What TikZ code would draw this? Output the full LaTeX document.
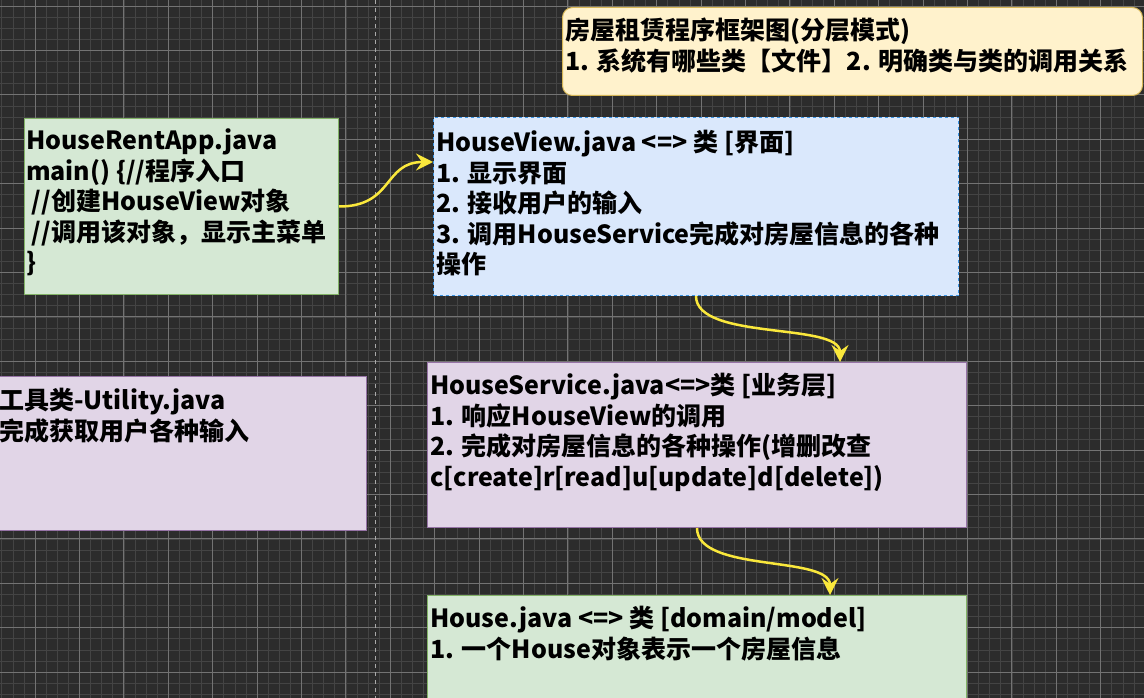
\documentclass[tikz,border=0pt]{standalone}
\usepackage{fontspec}
\setmainfont{Noto Sans CJK SC}
\usepackage{tikz}
\usetikzlibrary{arrows.meta,calc}
\usepackage{xcolor}
\definecolor{cbg}{RGB}{44,44,44}
\definecolor{cgridminor}{RGB}{68,68,68}
\definecolor{cgridmajor}{RGB}{115,115,115}
\definecolor{cpage}{RGB}{170,170,170}
\definecolor{cyellowfill}{RGB}{255,242,204}
\definecolor{cyellowline}{RGB}{214,182,86}
\definecolor{cgreenfill}{RGB}{213,232,212}
\definecolor{cgreenline}{RGB}{130,179,102}
\definecolor{cbluefill}{RGB}{218,232,252}
\definecolor{cblueline}{RGB}{60,150,230}
\definecolor{cpurplefill}{RGB}{225,213,231}
\definecolor{cpurpleline}{RGB}{150,115,166}
\definecolor{carrow}{RGB}{250,232,60}
\tikzset{
  box/.style={rectangle, draw=#1line, fill=#1fill, line width=1pt,
    anchor=north west, inner sep=0pt},
  txt/.style={anchor=north west, inner sep=0pt, align=left,
    font=\fontsize{25}{30.5}\selectfont\bfseries, text=black},
  arr/.style={-{Stealth[length=17pt,width=17pt,inset=6pt]}, line width=2.5pt, color=carrow}
}
\begin{document}
\begin{tikzpicture}[x=1pt,y=-1pt]
  \useasboundingbox (0,0) rectangle (1144,698);
  \clip (0,0) rectangle (1144,698);
  \fill[cbg] (0,0) rectangle (1144,698);
  % grid
  \foreach \i in {-3,...,100}
    \draw[cgridminor, line width=0.6pt] ({35+11.1*\i},0) -- ++(0,698);
  \foreach \j in {0,...,63}
    \draw[cgridminor, line width=0.6pt] (0,{6+11.1*\j}) -- ++(1144,0);
  \foreach \i in {0,...,25}
    \draw[cgridmajor, line width=0.9pt] ({35+44.4*\i},0) -- ++(0,698);
  \foreach \j in {0,...,15}
    \draw[cgridmajor, line width=0.9pt] (0,{6+44.4*\j}) -- ++(1144,0);
  \draw[cpage, line width=1pt, dash pattern=on 4pt off 4pt] (375,0) -- (375,698);

  % boxes
  \node[box=cyellow, rounded corners=10pt, minimum width=580pt, minimum height=88pt] (title) at (562,7) {};
  \node[box=cgreen,  minimum width=314pt, minimum height=176pt] (app)   at (24,118) {};
  \node[box=cblue,   dashed, minimum width=525pt, minimum height=178pt] (hv) at (433,117) {};
  \node[box=cpurple, minimum width=396pt, minimum height=154pt] (util)  at (-30,376) {};
  \node[box=cpurple, minimum width=539pt, minimum height=165pt] (hs)    at (427,362) {};
  \node[box=cgreen,  minimum width=539pt, minimum height=130pt] (house) at (427,595) {};

  % texts
  \node[txt] (title text) at ($(title.north west)+(3,11)$)
    {房屋租赁程序框架图(分层模式)\\1. 系统有哪些类【文件】2. 明确类与类的调用关系};
  \node[txt] (app text) at ($(app.north west)+(2,11)$)
    {HouseRentApp.java\\main() \{//程序入口\\\ //创建HouseView对象\\\ //调用该对象，显示主菜单\\\}};
  \node[txt] (hv text) at ($(hv.north west)+(3,13)$)
    {HouseView.java <=> 类 [界面]\\1. 显示界面\\2. 接收用户的输入\\3. 调用HouseService完成对房屋信息的各种\\操作};
  \node[txt] (util text) at ($(util.north west)+(29,12)$)
    {工具类-Utility.java\\完成获取用户各种输入};
  \node[txt] (hs text) at ($(hs.north west)+(3,11)$)
    {HouseService.java<=>类 [业务层]\\1. 响应HouseView的调用\\2. 完成对房屋信息的各种操作(增删改查\\c[create]r[read]u[update]d[delete])};
  \node[txt] (house text) at ($(house.north west)+(3,11)$)
    {House.java <=> 类 [domain/model]\\1. 一个House对象表示一个房屋信息};

  % connectors
  \coordinate (hv in) at ($(hv.north west)+(0,45)$);
  \coordinate (hs in) at ($(hs.north west)+(413,0)$);
  \coordinate (house in) at ($(house.north west)+(403,0)$);
  \draw[arr] (app.east) .. controls +(55,0) and +(-50,0) .. (hv in);
  \draw[arr] (hv.south) .. controls +(0,45) and +(0,-40) .. (hs in);
  \draw[arr] (hs.south) .. controls +(0,45) and +(0,-40) .. (house in);
\end{tikzpicture}
\end{document}
